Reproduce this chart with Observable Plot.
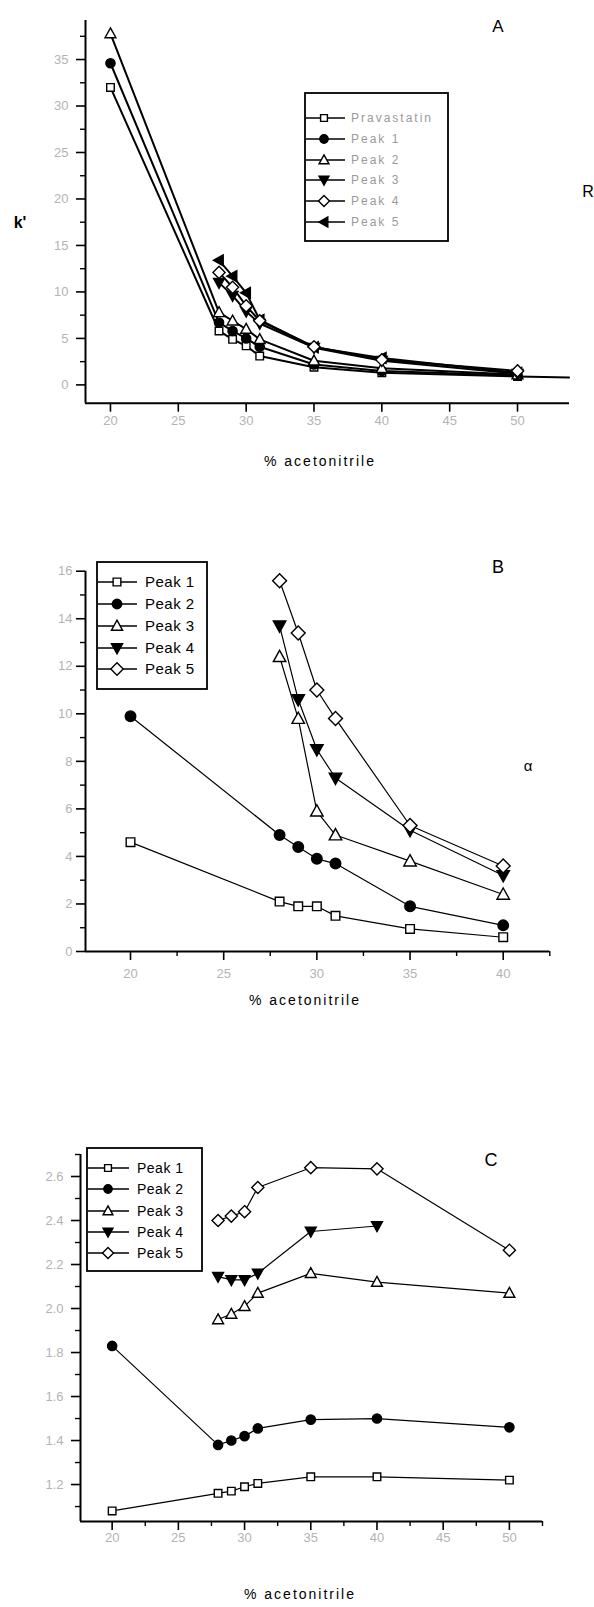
<!DOCTYPE html>
<html><head><meta charset="utf-8">
<script src="https://cdn.jsdelivr.net/npm/d3@7"></script>
<script src="https://cdn.jsdelivr.net/npm/@observablehq/plot@0.6"></script>
<style>
body{margin:0;background:#fff;}
#wrap{position:relative;width:594px;height:1607px;overflow:hidden;font-family:"Liberation Sans",Arial,sans-serif;}
#wrap svg{position:absolute;left:0;}
.lbl{position:absolute;white-space:nowrap;transform:translate(-50%,-50%);color:#000;}
</style></head><body><div id="wrap"></div>
<script>
// ---------- Panel A: k' ----------
const xA = [20, 28, 29, 30, 31, 35, 40, 50];
const pravA  = [32.0, 5.8, 4.9, 4.2, 3.1, 1.9, 1.3, 0.9];
const peak1A = [34.6, 6.7, 5.8, 5.0, 4.1, 2.2, 1.5, 1.0];
const peak2A = [37.8, 7.8, 6.9, 6.0, 4.9, 2.6, 1.8, 1.1];
const peak3A = [null, 11.0, 9.6, 7.9, 6.6, 4.0, 2.6, 1.2];
const peak4A = [null, 12.1, 10.5, 8.5, 6.9, 4.1, 2.7, 1.5];
const peak5A = [null, 13.4, 11.7, 9.9, 7.0, 4.05, 2.9, 1.3];
const tailXA = [50, 53.8];
const tailYA = [0.9, 0.8];
const namesA = ["Pravastatin", "Peak 1", "Peak 2", "Peak 3", "Peak 4", "Peak 5"];
const ticksXA = [20, 25, 30, 35, 40, 45, 50];
const ticksYA = [0, 5, 10, 15, 20, 25, 30, 35];
const minorYA = [2.5, 7.5, 12.5, 17.5, 22.5, 27.5, 32.5, 37.5];

// ---------- Panel B: alpha ----------
const xB = [20, 28, 29, 30, 31, 35, 40];
const peak1B = [4.6, 2.1, 1.9, 1.9, 1.5, 0.95, 0.6];
const peak2B = [9.9, 4.9, 4.4, 3.9, 3.7, 1.9, 1.1];
const peak3B = [null, 12.4, 9.8, 5.9, 4.9, 3.8, 2.4];
const peak4B = [null, 13.7, 10.6, 8.5, 7.3, 5.1, 3.2];
const peak5B = [null, 15.6, 13.4, 11.0, 9.8, 5.3, 3.6];
const namesB = ["Peak 1", "Peak 2", "Peak 3", "Peak 4", "Peak 5"];
const ticksXB = [20, 25, 30, 35, 40];
const minorXB = [22.5, 27.5, 32.5, 37.5, 42.5];
const ticksYB = [0, 2, 4, 6, 8, 10, 12, 14, 16];
const minorYB = [1, 3, 5, 7, 9, 11, 13, 15];

// ---------- Panel C ----------
const xC = [20, 28, 29, 30, 31, 35, 40, 50];
const peak1C = [1.08, 1.16, 1.17, 1.19, 1.205, 1.235, 1.235, 1.22];
const peak2C = [1.83, 1.38, 1.40, 1.42, 1.455, 1.495, 1.50, 1.46];
const peak3C = [null, 1.95, 1.975, 2.01, 2.07, 2.16, 2.12, 2.07];
const peak4C = [null, 2.145, 2.13, 2.13, 2.16, 2.35, 2.375, null];
const peak5C = [null, 2.40, 2.42, 2.44, 2.55, 2.64, 2.635, 2.265];
const namesC = ["Peak 1", "Peak 2", "Peak 3", "Peak 4", "Peak 5"];
const ticksXC = [20, 25, 30, 35, 40, 45, 50];
const minorXC = [22.5, 27.5, 32.5, 37.5, 42.5, 47.5, 52.5];
const ticksYC = [1.2, 1.4, 1.6, 1.8, 2.0, 2.2, 2.4, 2.6];
const minorYC = [1.1, 1.3, 1.5, 1.7, 1.9, 2.1, 2.3, 2.5, 2.7];

// ---------- symbols ----------
function sym(kind) {
  return {draw(ctx, size) {
    const r = Math.sqrt(size / Math.PI);
    if (kind === "square") { const h = 0.9 * r; ctx.moveTo(-h, -h); ctx.lineTo(h, -h); ctx.lineTo(h, h); ctx.lineTo(-h, h); ctx.closePath(); }
    else if (kind === "circle") { const c = 1.1 * r; ctx.moveTo(c, 0); ctx.arc(0, 0, c, 0, 2 * Math.PI); }
    else if (kind === "up") { ctx.moveTo(0, -1.35 * r); ctx.lineTo(1.3 * r, 1.0 * r); ctx.lineTo(-1.3 * r, 1.0 * r); ctx.closePath(); }
    else if (kind === "down") { ctx.moveTo(0, 1.35 * r); ctx.lineTo(1.3 * r, -1.0 * r); ctx.lineTo(-1.3 * r, -1.0 * r); ctx.closePath(); }
    else if (kind === "diamond") { const d = 1.45 * r; ctx.moveTo(0, -d); ctx.lineTo(d, 0); ctx.lineTo(0, d); ctx.lineTo(-d, 0); ctx.closePath(); }
    else if (kind === "left") { ctx.moveTo(-1.35 * r, 0); ctx.lineTo(1.0 * r, -1.3 * r); ctx.lineTo(1.0 * r, 1.3 * r); ctx.closePath(); }
  }};
}
const STY = {
  square: {kind: "square", fill: "white"},
  circle: {kind: "circle", fill: "black"},
  up: {kind: "up", fill: "white"},
  down: {kind: "down", fill: "black"},
  diamond: {kind: "diamond", fill: "white"},
  left: {kind: "left", fill: "black"}
};

const wrap = document.getElementById("wrap");

function panel(cfg) {
  const marks = [];
  const dataOf = (xs, ys) => xs.map((x, i) => ({x, y: ys[i]})).filter(d => d.y != null);
  if (cfg.extra) marks.push(Plot.line(dataOf(cfg.extra[0], cfg.extra[1]), {x: "x", y: "y", stroke: "black", strokeWidth: cfg.lineW}));
  for (const s of cfg.series) marks.push(Plot.line(dataOf(cfg.xs, s.ys), {x: "x", y: "y", stroke: "black", strokeWidth: cfg.lineW}));
  for (const s of cfg.series) marks.push(Plot.dot(dataOf(cfg.xs, s.ys), {x: "x", y: "y", r: cfg.r, symbol: sym(s.st.kind), fill: s.st.fill, stroke: "black", strokeWidth: 1.4}));
  marks.push(
    Plot.ruleX([cfg.xDomain[0]], {stroke: "black", strokeWidth: 2}),
    Plot.ruleY([cfg.yDomain[0]], {stroke: "black", strokeWidth: 2}),
    Plot.axisX(cfg.xMajor, {tickSize: 9, strokeWidth: 1.6, fill: "none", label: null}),
    Plot.axisX(cfg.xMajor, {tickSize: 0, tickPadding: cfg.xPad, fill: "#b3b3b3", fontSize: 13, label: null, tickFormat: cfg.xFmt}),
    Plot.axisY(cfg.yMajor, {tickSize: 9, strokeWidth: 1.6, fill: "none", label: null}),
    Plot.axisY(cfg.yMajor, {tickSize: 0, tickPadding: cfg.yPad, fill: "#b3b3b3", fontSize: 13, label: null, tickFormat: cfg.yFmt})
  );
  if (cfg.xMinor.length) marks.push(Plot.axisX(cfg.xMinor, {tickSize: 5, strokeWidth: 1.4, fill: "none", label: null}));
  if (cfg.yMinor.length) marks.push(Plot.axisY(cfg.yMinor, {tickSize: 5, strokeWidth: 1.4, fill: "none", label: null}));
  const svg = Plot.plot({
    width: 594, height: cfg.H,
    marginLeft: cfg.ml, marginRight: cfg.mr, marginTop: cfg.mt, marginBottom: cfg.mb,
    x: {domain: cfg.xDomain, axis: null},
    y: {domain: cfg.yDomain, axis: null},
    style: {fontFamily: "Liberation Sans, Arial, sans-serif", background: "transparent", overflow: "visible"},
    marks
  });
  svg.style.top = cfg.top + "px";
  wrap.appendChild(svg);
}

function legend(cfg) {
  const svg = d3.select(wrap).append("svg")
    .attr("width", 594).attr("height", 1607)
    .style("top", "0px").style("pointer-events", "none");
  svg.append("rect").attr("x", cfg.box[0]).attr("y", cfg.box[1])
    .attr("width", cfg.box[2] - cfg.box[0]).attr("height", cfg.box[3] - cfg.box[1])
    .attr("fill", "white").attr("stroke", "black").attr("stroke-width", 1.8);
  cfg.items.forEach((it, i) => {
    const y = cfg.rows[i];
    svg.append("line").attr("x1", cfg.lx[0]).attr("x2", cfg.lx[1]).attr("y1", y).attr("y2", y)
      .attr("stroke", "black").attr("stroke-width", 1.6);
    svg.append("path").attr("transform", `translate(${cfg.mx},${y})`)
      .attr("d", d3.symbol(sym(it.st.kind), cfg.r * cfg.r * Math.PI)())
      .attr("fill", it.st.fill).attr("stroke", "black").attr("stroke-width", 1.4);
    svg.append("text").attr("x", cfg.tx).attr("y", y).attr("dy", "0.35em")
      .attr("font-size", cfg.fs).attr("letter-spacing", cfg.ls).attr("fill", cfg.color)
      .attr("font-family", "Liberation Sans, Arial, sans-serif").text(it.name);
  });
}

function label(text, x, y, css) {
  const d = document.createElement("div");
  d.className = "lbl";
  d.textContent = text;
  d.style.left = x + "px"; d.style.top = y + "px";
  Object.assign(d.style, css || {});
  wrap.appendChild(d);
}

// Panel A
const seriesA = [
  {ys: pravA, st: STY.square}, {ys: peak1A, st: STY.circle}, {ys: peak2A, st: STY.up},
  {ys: peak3A, st: STY.down}, {ys: peak5A, st: STY.left}, {ys: peak4A, st: STY.diamond}
];
panel({top: 0, H: 490, ml: 85, mr: 25, mt: 20, mb: 87.3,
  xDomain: [18.16, 53.83], yDomain: [-1.97, 39.2],
  xs: xA, series: seriesA, extra: [tailXA, tailYA],
  xMajor: ticksXA, xMinor: [], yMajor: ticksYA, yMinor: minorYA,
  r: 4.2, lineW: 2, xPad: 13, yPad: 17, xFmt: d3.format("d"), yFmt: d3.format("d")});
legend({box: [305, 93, 448, 241], rows: [118, 139, 160, 180, 201, 222], lx: [306, 345], mx: 324, tx: 351,
  r: 3.8, fs: 12, ls: "2px", color: "#9a9a9a",
  items: namesA.map((n, i) => ({name: n, st: [STY.square, STY.circle, STY.up, STY.down, STY.diamond, STY.left][i]}))});

// Panel B
const seriesB = [
  {ys: peak1B, st: STY.square}, {ys: peak2B, st: STY.circle}, {ys: peak3B, st: STY.up},
  {ys: peak4B, st: STY.down}, {ys: peak5B, st: STY.diamond}
];
panel({top: 490, H: 530, ml: 85, mr: 44.7, mt: 80.7, mb: 69,
  xDomain: [17.585, 42.5], yDomain: [0, 16],
  xs: xB, series: seriesB,
  xMajor: ticksXB, xMinor: minorXB, yMajor: ticksYB, yMinor: minorYB,
  r: 4.8, lineW: 1.2, xPad: 17, yPad: 13, xFmt: d3.format("d"), yFmt: d3.format("d")});
legend({box: [97, 562, 207, 689], rows: [582, 604, 626, 648, 669], lx: [98, 137], mx: 117, tx: 145,
  r: 4.3, fs: 15, ls: "0.5px", color: "#000",
  items: namesB.map((n, i) => ({name: n, st: [STY.square, STY.circle, STY.up, STY.down, STY.diamond][i]}))});

// Panel C
const seriesC = [
  {ys: peak1C, st: STY.square}, {ys: peak2C, st: STY.circle}, {ys: peak3C, st: STY.up},
  {ys: peak4C, st: STY.down}, {ys: peak5C, st: STY.diamond}
];
panel({top: 1020, H: 587, ml: 80, mr: 52, mt: 134, mb: 86,
  xDomain: [17.61, 52.5], yDomain: [1.032, 2.7],
  xs: xC, series: seriesC,
  xMajor: ticksXC, xMinor: minorXC, yMajor: ticksYC, yMinor: minorYC,
  r: 4.2, lineW: 1.2, xPad: 11, yPad: 17, xFmt: d3.format("d"), yFmt: d3.format(".1f")});
legend({box: [87, 1148, 202, 1271], rows: [1168, 1189, 1211, 1232, 1253], lx: [88, 129], mx: 108, tx: 137,
  r: 3.8, fs: 14, ls: "0.5px", color: "#000",
  items: namesC.map((n, i) => ({name: n, st: [STY.square, STY.circle, STY.up, STY.down, STY.diamond][i]}))});

// Text labels
const axisCss = {fontSize: "14px", letterSpacing: "2px"};
label("% acetonitrile", 320, 461, axisCss);
label("% acetonitrile", 305, 1000, axisCss);
label("% acetonitrile", 300, 1594, axisCss);
label("k'", 20, 223, {fontSize: "16px", fontWeight: "bold"});
label("A", 498, 27, {fontSize: "17px"});
label("R", 588, 192, {fontSize: "16px"});
label("B", 498, 567, {fontSize: "18px"});
label("α", 528, 765, {fontSize: "15px"});
label("C", 491, 1160, {fontSize: "18px"});
</script></body></html>
